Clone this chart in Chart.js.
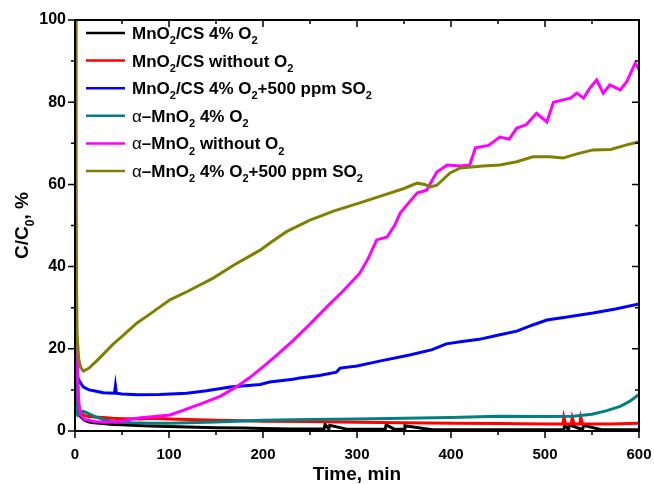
<!DOCTYPE html>
<html>
<head>
<meta charset="utf-8">
<script src="https://cdn.jsdelivr.net/npm/chart.js@4.4.1/dist/chart.umd.min.js"></script>
<style>
  html, body { margin: 0; padding: 0; background: #fff; }
  #wrap { width: 654px; height: 484px; }
</style>
</head>
<body>
<div id="wrap"><canvas id="chart" width="654" height="484"></canvas></div>
<script>
// time (min) and C/C0 (%), one pair of arrays per curve
const tBlack = [0, 1, 2, 4, 6, 10, 15, 20, 30, 40, 50, 60, 80, 100, 120, 150, 180, 200, 230, 250, 265, 266, 270, 271, 290, 330, 331, 340, 350, 351, 380, 420, 450, 480, 520, 521, 525, 526, 540, 541, 560, 600];
const vBlack = [20, 12, 7, 4.5, 3.5, 2.6, 2.2, 2.0, 1.8, 1.6, 1.5, 1.4, 1.2, 1.1, 1.0, 0.8, 0.7, 0.6, 0.5, 0.5, 0.5, 1.6, 0.5, 1.4, 0.4, 0.4, 1.5, 0.4, 0.4, 1.3, 0.3, 0.3, 0.3, 0.3, 0.3, 1.6, 0.3, 1.5, 0.3, 1.4, 0.3, 0.3];

const tRed = [0, 2, 4, 6, 10, 15, 20, 30, 40, 50, 60, 70, 80, 100, 120, 150, 180, 200, 250, 300, 350, 400, 450, 500, 519, 520, 522, 528, 529, 531, 537, 538, 540, 545, 570, 600];
const vRed = [25, 8, 5, 4.2, 3.8, 3.5, 3.4, 3.3, 3.1, 3.0, 3.0, 2.9, 3.1, 2.9, 2.8, 2.6, 2.5, 2.4, 2.3, 2.1, 2.0, 1.9, 1.8, 1.7, 1.7, 3.4, 1.7, 1.7, 3.2, 1.7, 1.7, 3.3, 1.7, 1.7, 1.7, 1.9];

const tBlue = [0, 1, 3, 5, 9, 15, 20, 30, 42, 43, 44, 50, 66, 90, 119, 140, 165, 197, 207, 232, 239, 260, 278, 282, 300, 324, 356, 380, 395, 410, 430, 452, 470, 487, 502, 520, 551, 575, 600];
const vBlue = [19, 16, 13, 12, 10.7, 10, 9.8, 9.3, 9.2, 11, 9.2, 9.0, 8.8, 8.9, 9.2, 9.8, 10.7, 11.3, 11.9, 12.6, 12.9, 13.5, 14.3, 15.3, 15.8, 17.0, 18.5, 19.8, 21.2, 21.7, 22.3, 23.4, 24.3, 25.8, 27.0, 27.6, 28.7, 29.7, 30.9];

const tTeal = [0, 1, 2, 3, 5, 8, 12, 20, 30, 40, 60, 80, 100, 150, 200, 250, 300, 350, 400, 450, 500, 530, 550, 565, 580, 590, 600];
const vTeal = [17, 8, 4.5, 3.8, 4.0, 4.8, 4.5, 3.6, 2.8, 2.3, 2.0, 1.9, 1.9, 2.2, 2.6, 2.8, 2.9, 3.1, 3.3, 3.6, 3.5, 3.6, 4.1, 4.9, 6.0, 7.2, 8.9];

const tMagenta = [0, 1, 2, 4, 6, 10, 20, 30, 40, 50, 58, 70, 85, 101, 115, 136, 155, 172, 186, 200, 215, 232, 250, 268, 285, 303, 312, 321, 332, 340, 346, 355, 364, 374, 380, 385, 396, 410, 420, 426, 440, 452, 462, 470, 480, 491, 502, 509, 518, 527, 534, 541, 548, 555, 562, 569, 580, 587, 596, 600];
const vMagenta = [100, 60, 20, 7, 4, 2.8, 2.3, 2.1, 2.2, 2.3, 2.8, 3.2, 3.5, 3.9, 5.0, 6.8, 8.5, 10.8, 13.0, 15.6, 18.5, 22, 26, 30.2, 34, 38.4, 42, 46.5, 47.2, 50, 53, 55.5, 57.9, 58.6, 61, 63, 64.7, 64.5, 64.7, 68.9, 69.5, 71.5, 71.0, 73.7, 74.5, 77.3, 75.2, 80, 80.5, 81, 82.2, 81, 83.5, 85.4, 82.2, 84.2, 83, 85, 89.5, 88];

const tOlive = [0, 1, 2, 4, 6, 9, 15, 25, 40, 50, 66, 80, 101, 120, 147, 170, 197, 207, 225, 250, 275, 303, 330, 350, 364, 372, 378, 385, 399, 410, 434, 452, 470, 487, 505, 519, 535, 551, 570, 585, 599];
const vOlive = [100, 55, 24, 17.5, 15.5, 14.6, 15.3, 17.5, 21, 23, 26.3, 28.5, 31.9, 34, 37.2, 40.5, 44, 45.7, 48.5, 51.3, 53.5, 55.5, 57.5, 59, 60.3, 60, 59.4, 59.8, 62.8, 64, 64.5, 64.7, 65.5, 66.7, 66.7, 66.4, 67.5, 68.4, 68.5, 69.5, 70.3];

const seriesTimes = [tBlack, tRed, tBlue, tTeal, tMagenta, tOlive];
const seriesValues = [vBlack, vRed, vBlue, vTeal, vMagenta, vOlive];
const seriesColors = ["#000000", "#ff0000", "#0000ff", "#008080", "#ff00ff", "#808000"];

// legend labels, split so the 2s can be drawn as subscripts
const seriesLabels = [
  [["MnO"], ["2", "sub"], ["/CS 4% O"], ["2", "sub"]],
  [["MnO"], ["2", "sub"], ["/CS without O"], ["2", "sub"]],
  [["MnO"], ["2", "sub"], ["/CS 4% O"], ["2", "sub"], ["+500 ppm SO"], ["2", "sub"]],
  [["\u03b1", "greek"], ["\u2013MnO"], ["2", "sub"], [" 4% O"], ["2", "sub"]],
  [["\u03b1", "greek"], ["\u2013MnO"], ["2", "sub"], [" without O"], ["2", "sub"]],
  [["\u03b1", "greek"], ["\u2013MnO"], ["2", "sub"], [" 4% O"], ["2", "sub"], ["+500 ppm SO"], ["2", "sub"]]
];

const xTicks = [0, 50, 100, 150, 200, 250, 300, 350, 400, 450, 500, 550, 600];
const yTicks = [0, 10, 20, 30, 40, 50, 60, 70, 80, 90, 100];

const FAMILY = "'Liberation Sans', Arial, sans-serif";

function partFont(kind, size) {
  if (kind === "sub") return "bold " + Math.round(size * 0.65) + "px " + FAMILY;
  if (kind === "greek") return size + "px " + FAMILY;
  return "bold " + size + "px " + FAMILY;
}

// draws text pieces left to right, subscripts lowered
function drawParts(ctx, parts, x, y, size) {
  let cx = x;
  parts.forEach(([txt, kind]) => {
    ctx.font = partFont(kind, size);
    ctx.fillText(txt, cx, kind === "sub" ? y + size * 0.3 : y);
    cx += ctx.measureText(txt).width;
  });
  return cx - x;
}

function partsWidth(ctx, parts, size) {
  let w = 0;
  parts.forEach(([txt, kind]) => {
    ctx.font = partFont(kind, size);
    w += ctx.measureText(txt).width;
  });
  return w;
}

const frame = {
  id: "frame",
  afterDraw(chart) {
    const { ctx, chartArea: a, scales } = chart;
    ctx.save();
    ctx.strokeStyle = "#000";
    ctx.lineWidth = 2;
    ctx.strokeRect(a.left, a.top, a.right - a.left, a.bottom - a.top);

    ctx.lineWidth = 1.5;
    ctx.beginPath();
    xTicks.forEach(v => {
      const px = scales.x.getPixelForValue(v);
      const len = v % 100 === 0 ? 7 : 4;
      ctx.moveTo(px, a.bottom);
      ctx.lineTo(px, a.bottom + len);
      ctx.moveTo(px, a.top);
      ctx.lineTo(px, a.top + len);
    });
    yTicks.forEach(v => {
      const py = scales.y.getPixelForValue(v);
      const len = v % 20 === 0 ? 7 : 4;
      ctx.moveTo(a.left, py);
      ctx.lineTo(a.left - len, py);
      ctx.moveTo(a.right, py);
      ctx.lineTo(a.right - len, py);
    });
    ctx.stroke();

    // axis titles
    ctx.fillStyle = "#000";
    ctx.textBaseline = "alphabetic";
    ctx.font = "bold 19px " + FAMILY;
    ctx.textAlign = "center";
    ctx.fillText("Time, min", (a.left + a.right) / 2, 480);
    ctx.textAlign = "left";

    const yTitle = [["C/C"], ["0", "sub"], [", %"]];
    ctx.save();
    ctx.translate(28, (a.top + a.bottom) / 2);
    ctx.rotate(-Math.PI / 2);
    drawParts(ctx, yTitle, -partsWidth(ctx, yTitle, 19) / 2, 0, 19);
    ctx.restore();

    // legend
    seriesLabels.forEach((parts, i) => {
      const ly = 33 + i * 27.6;
      ctx.strokeStyle = seriesColors[i];
      ctx.lineWidth = 2.5;
      ctx.beginPath();
      ctx.moveTo(86, ly);
      ctx.lineTo(125, ly);
      ctx.stroke();
      ctx.fillStyle = "#000";
      drawParts(ctx, parts, 132, ly + 6, 17);
    });
    ctx.restore();
  }
};

const datasets = seriesTimes.map((ts, i) => ({
  data: ts.map((t, k) => ({ x: t, y: seriesValues[i][k] })),
  borderColor: seriesColors[i],
  borderWidth: 3,
  pointRadius: 0,
  tension: 0,
  order: seriesTimes.length - i
}));

new Chart(document.getElementById("chart"), {
  type: "line",
  data: { datasets },
  options: {
    responsive: false,
    animation: false,
    layout: { padding: { top: 20, right: 15, left: 0, bottom: 0 } },
    plugins: { legend: { display: false }, tooltip: { enabled: false } },
    scales: {
      x: {
        type: "linear",
        min: 0,
        max: 600,
        grid: { display: false, drawTicks: false },
        border: { display: false },
        ticks: { stepSize: 100, padding: 15, color: "#000", font: { family: FAMILY, size: 15, weight: "bold" } },
        afterFit(scale) {
          scale.height = 53;
          scale.paddingLeft = 0;
          scale.paddingRight = 0;
        }
      },
      y: {
        min: 0,
        max: 100,
        grid: { display: false, drawTicks: false },
        border: { display: false },
        ticks: { stepSize: 20, padding: 9, color: "#000", font: { family: FAMILY, size: 16, weight: "bold" } },
        afterFit(scale) {
          scale.width = 75;
          scale.paddingTop = 0;
          scale.paddingBottom = 0;
        }
      }
    }
  },
  plugins: [frame]
});
</script>
</body>
</html>
